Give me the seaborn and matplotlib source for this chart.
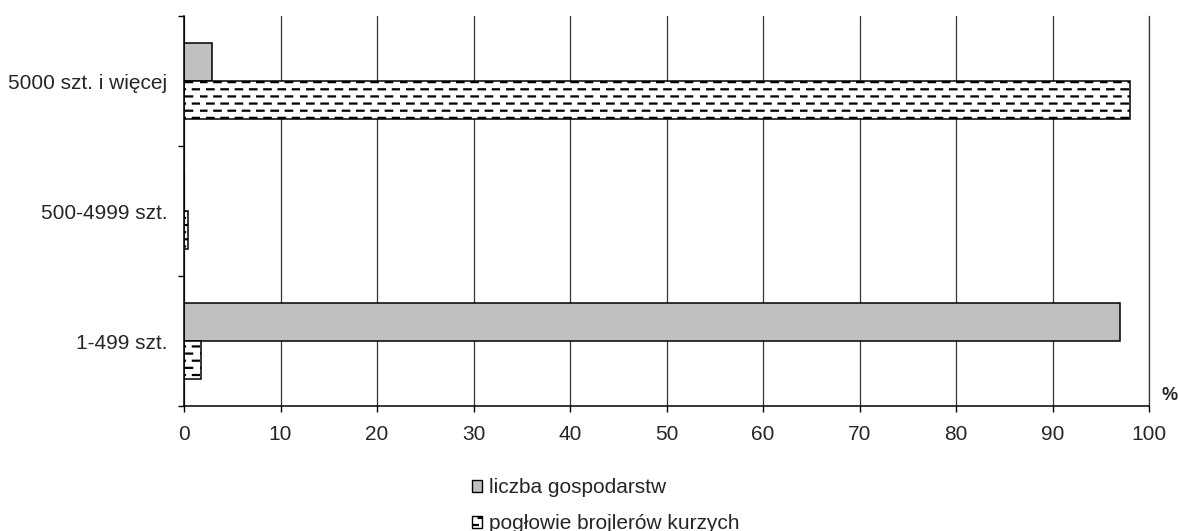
import numpy as np
import pandas as pd
import matplotlib
matplotlib.use("Agg")
import matplotlib.pyplot as plt
import matplotlib.hatch as mhatch
import matplotlib.patches as mpatches
from matplotlib.path import Path
from matplotlib.ticker import FixedLocator
import seaborn as sns

# ---- data ----
categories = ["5000 szt. i więcej", "500-4999 szt.", "1-499 szt."]
series_names = ["liczba gospodarstw", "pogłowie brojlerów kurzych"]
liczba_gospodarstw = [2.9, 0.0, 97.0]
poglowie_brojlerow = [98.0, 0.4, 1.8]
x_ticks = [0, 10, 20, 30, 40, 50, 60, 70, 80, 90, 100]


# ---- dashed horizontal hatch (replaces the plain '-' hatch) ----
class DashedHorizontalHatch(mhatch.HatchPatternBase):
    def __init__(self, hatch, density):
        n = hatch.count('-')
        self.num_rows = 14 if n else 0
        self.num_dashes = 7
        self.num_vertices = self.num_rows * self.num_dashes * 2

    def set_vertices_and_codes(self, vertices, codes):
        period = 1.0 / self.num_dashes
        dash = period * 0.45
        k = 0
        for r in range(self.num_rows):
            yy = (r + 0.5) / self.num_rows
            off = 0.0 if r % 2 == 0 else period / 2
            for d in range(self.num_dashes):
                x0 = d * period + off
                vertices[k] = (x0, yy)
                vertices[k + 1] = (x0 + dash, yy)
                codes[k] = Path.MOVETO
                codes[k + 1] = Path.LINETO
                k += 2


mhatch._hatch_types = [DashedHorizontalHatch if t is mhatch.HorizontalHatch else t
                       for t in mhatch._hatch_types]

sns.set_style("white")
plt.rcParams['font.family'] = ['Liberation Sans', 'DejaVu Sans']
plt.rcParams['hatch.linewidth'] = 1.6
plt.rcParams['hatch.color'] = '#222222'

df = pd.DataFrame({
    "kategoria": categories * 2,
    "wartosc": liczba_gospodarstw + poglowie_brojlerow,
    "seria": [series_names[0]] * 3 + [series_names[1]] * 3,
})

fig = plt.figure(figsize=(11.78, 5.31), dpi=100)
ax = fig.add_axes([184 / 1178, 1 - 406 / 531, (1149 - 184) / 1178, (406 - 16) / 531])

colors = ["#c0c0c0", "#ffffff"]
sns.barplot(data=df, y="kategoria", x="wartosc", hue="seria", order=categories,
            hue_order=series_names, palette=colors, orient="h", width=0.585,
            edgecolor="black", linewidth=1.1, saturation=1, legend=False, ax=ax)

for bar in ax.containers[1]:
    bar.set_hatch('-')
    bar.set_edgecolor('black')

ax.set_xlim(0, 100)
ax.set_ylim(2.5, -0.5)
ax.set_xticks(x_ticks)
ax.set_xticklabels([str(t) for t in x_ticks], fontsize=15)
ax.set_xlabel("")
ax.set_ylabel("")
ax.tick_params(axis='y', which='major', length=0, pad=12, labelsize=15)
ax.yaxis.set_minor_locator(FixedLocator([-0.5, 0.5, 1.5, 2.5]))
ax.tick_params(axis='y', which='minor', length=4.5, width=1, color='black', direction='out', left=True)
ax.tick_params(axis='x', which='major', length=4.5, width=1, color='black', direction='out',
               bottom=True, pad=9.5)

ax.xaxis.grid(True, color='#333333', linewidth=0.9)
ax.yaxis.grid(False)
ax.set_axisbelow(True)
ax.spines['top'].set_visible(False)
ax.spines['right'].set_visible(True)
ax.spines['right'].set_color('#333333')
ax.spines['right'].set_linewidth(0.9)
ax.spines['left'].set_color('black')
ax.spines['bottom'].set_color('black')
ax.spines['left'].set_linewidth(1.1)
ax.spines['bottom'].set_linewidth(1.1)

fig.text(1170 / 1178, 1 - 395 / 531, "%", fontsize=13, fontweight='bold', ha='center', va='center')

handles = [mpatches.Patch(facecolor=colors[0], edgecolor='black', linewidth=1.0, label=series_names[0]),
           mpatches.Patch(facecolor=colors[1], edgecolor='black', linewidth=1.0, hatch='-', label=series_names[1])]
fig.legend(handles=handles, loc='upper left', bbox_to_anchor=(472 / 1178, 1 - 478 / 531),
           frameon=False, fontsize=15, handlelength=0.5, handleheight=0.5,
           handletextpad=0.3, labelspacing=0.82, borderpad=0, borderaxespad=0)

fig.savefig("out.png", dpi=100)
